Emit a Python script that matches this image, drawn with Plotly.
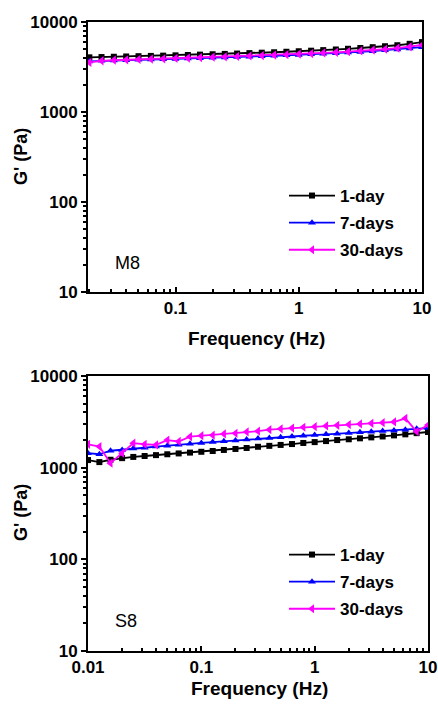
import math
import plotly.graph_objects as go

# ---------------- data ----------------
series_names = ["1-day", "7-days", "30-days"]

# Top panel (M8): frequency sweep 0.02 - 10 Hz, 10 points per decade
freq_m8 = [0.02, 0.0251, 0.0316, 0.0398, 0.0501, 0.0631, 0.0794, 0.1, 0.126, 0.158,
           0.2, 0.251, 0.316, 0.398, 0.501, 0.631, 0.794, 1.0, 1.26, 1.58,
           2.0, 2.51, 3.16, 3.98, 5.01, 6.31, 7.94, 10.0]
m8_1day = [4050, 4080, 4110, 4140, 4170, 4200, 4230, 4260, 4300, 4340,
           4380, 4420, 4460, 4510, 4560, 4610, 4670, 4730, 4800, 4870,
           4950, 5040, 5140, 5250, 5380, 5520, 5720, 5980]
m8_7days = [3650, 3700, 3740, 3770, 3800, 3830, 3860, 3890, 3920, 3960,
            4000, 4040, 4080, 4120, 4160, 4210, 4260, 4310, 4370, 4430,
            4500, 4570, 4650, 4740, 4840, 4950, 5080, 5250]
m8_30days = [3550, 3700, 3760, 3800, 3840, 3870, 3900, 3940, 3980, 4020,
             4060, 4100, 4140, 4190, 4240, 4290, 4340, 4400, 4460, 4530,
             4600, 4680, 4770, 4870, 4980, 5120, 5300, 5550]

# Bottom panel (S8): frequency sweep 0.01 - 10 Hz
freq_s8 = [0.01, 0.0126, 0.0158, 0.02, 0.0251, 0.0316, 0.0398, 0.0501, 0.0631, 0.0794,
           0.1, 0.126, 0.158, 0.2, 0.251, 0.316, 0.398, 0.501, 0.631, 0.794,
           1.0, 1.26, 1.58, 2.0, 2.51, 3.16, 3.98, 5.01, 6.31, 7.94, 10.0]
s8_1day = [1210, 1150, 1220, 1270, 1310, 1340, 1370, 1400, 1430, 1460,
           1490, 1520, 1560, 1600, 1640, 1690, 1730, 1770, 1810, 1860,
           1900, 1950, 2000, 2040, 2090, 2140, 2190, 2250, 2310, 2380, 2450]
s8_7days = [1440, 1400, 1530, 1560, 1620, 1650, 1700, 1730, 1780, 1820,
            1860, 1900, 1940, 1980, 2030, 2080, 2110, 2150, 2190, 2230,
            2270, 2310, 2350, 2390, 2430, 2470, 2510, 2550, 2600, 2650, 2700]
s8_30days = [1800, 1700, 1120, 1440, 1850, 1800, 1770, 2000, 1930, 2180,
             2230, 2260, 2330, 2370, 2450, 2500, 2600, 2650, 2700, 2760,
             2800, 2850, 2900, 2950, 3000, 3050, 3100, 3150, 3450, 2480, 2920]

x_tickvals_top = [0.1, 1, 10]
x_ticktext_top = ["0.1", "1", "10"]
x_tickvals_bot = [0.01, 0.1, 1, 10]
x_ticktext_bot = ["0.01", "0.1", "1", "10"]
y_tickvals = [10, 100, 1000, 10000]
y_ticktext = ["10", "100", "1000", "10000"]

panel_labels = ["M8", "S8"]
x_title = "Frequency (Hz)"
y_title = "G' (Pa)"

# ---------------- styling ----------------
W, H = 438, 704
FONT = "Liberation Sans, Arial, sans-serif"
colors = ["#000000", "#0000FF", "#FF00FF"]
symbols = ["square", "triangle-up", "triangle-left"]
msizes = [6, 7, 8]


def px_x(p):
    return p / W


def px_y(p):
    return 1 - p / H


top_box = dict(l=88, r=422, t=22, b=292)
bot_box = dict(l=88, r=428, t=376, b=651)

fig = go.Figure()

top_data = [m8_1day, m8_7days, m8_30days]
bot_data = [s8_1day, s8_7days, s8_30days]
for i, name in enumerate(series_names):
    fig.add_trace(go.Scatter(
        x=freq_m8, y=top_data[i], name=name, mode="lines+markers",
        line=dict(color=colors[i], width=1.8),
        marker=dict(symbol=symbols[i], size=msizes[i], color=colors[i]),
        xaxis="x", yaxis="y", legend="legend", legendgroup="t%d" % i))
for i, name in enumerate(series_names):
    fig.add_trace(go.Scatter(
        x=freq_s8, y=bot_data[i], name=name, mode="lines+markers",
        line=dict(color=colors[i], width=1.8),
        marker=dict(symbol=symbols[i], size=msizes[i], color=colors[i]),
        xaxis="x2", yaxis="y2", legend="legend2", legendgroup="b%d" % i))

tickfont = dict(family=FONT, size=17, color="black", weight="bold")


def minor_vals(lo_exp, hi_exp):
    return [m * 10 ** e for e in range(lo_exp, hi_exp) for m in range(2, 10)]


common_ax = dict(type="log", showgrid=False, zeroline=False, showline=True,
                 linecolor="black", linewidth=2, mirror=True, tickcolor="black",
                 tickwidth=1.5, tickfont=tickfont, automargin=False)

leg_font = dict(family=FONT, size=17, color="black", weight="bold")

fig.update_layout(
    width=W, height=H,
    margin=dict(l=0, r=0, t=0, b=0),
    paper_bgcolor="white", plot_bgcolor="white",
    showlegend=True,
    xaxis=dict(**common_ax, domain=[px_x(top_box["l"]), px_x(top_box["r"])],
               anchor="y", range=[math.log10(0.0195), 1.0],
               tickmode="array", tickvals=x_tickvals_top, ticktext=x_ticktext_top,
               ticks="inside", ticklen=5,
               minor=dict(tickmode="array", tickvals=minor_vals(-2, 1),
                          ticks="inside", ticklen=3, tickcolor="black", showgrid=False)),
    yaxis=dict(**common_ax, domain=[px_y(top_box["b"]), px_y(top_box["t"])],
               anchor="x", range=[1, 4],
               tickmode="array", tickvals=y_tickvals, ticktext=y_ticktext,
               ticks="outside", ticklen=5,
               minor=dict(tickmode="array", tickvals=minor_vals(1, 4),
                          ticks="outside", ticklen=3, tickcolor="black", showgrid=False)),
    xaxis2=dict(**common_ax, domain=[px_x(bot_box["l"]), px_x(bot_box["r"])],
                anchor="y2", range=[-2, 1],
                tickmode="array", tickvals=x_tickvals_bot, ticktext=x_ticktext_bot,
                ticks="inside", ticklen=5,
                minor=dict(tickmode="array", tickvals=minor_vals(-2, 1),
                           ticks="inside", ticklen=3, tickcolor="black", showgrid=False)),
    yaxis2=dict(**common_ax, domain=[px_y(bot_box["b"]), px_y(bot_box["t"])],
                anchor="x2", range=[1, 4],
                tickmode="array", tickvals=y_tickvals, ticktext=y_ticktext,
                ticks="outside", ticklen=5,
                minor=dict(tickmode="array", tickvals=minor_vals(1, 4),
                           ticks="outside", ticklen=3, tickcolor="black", showgrid=False)),
    legend=dict(x=px_x(284), y=px_y(178), xanchor="left", yanchor="top",
                bgcolor="rgba(0,0,0,0)", borderwidth=0, itemwidth=46,
                tracegroupgap=2, font=leg_font),
    legend2=dict(x=px_x(284), y=px_y(537), xanchor="left", yanchor="top",
                 bgcolor="rgba(0,0,0,0)", borderwidth=0, itemwidth=46,
                 tracegroupgap=2, font=leg_font),
)

ann_font = dict(family=FONT, size=19, color="black", weight="bold")
fig.add_annotation(x=px_x(256), y=px_y(338), xref="paper", yref="paper",
                   text=x_title, showarrow=False, font=ann_font,
                   xanchor="center", yanchor="middle")
fig.add_annotation(x=px_x(259), y=px_y(688), xref="paper", yref="paper",
                   text=x_title, showarrow=False, font=ann_font,
                   xanchor="center", yanchor="middle")
yt_font = dict(family=FONT, size=18, color="black", weight="bold")
fig.add_annotation(x=px_x(21), y=px_y(157), xref="paper", yref="paper",
                   text=y_title, showarrow=False, font=yt_font, textangle=-90,
                   xanchor="center", yanchor="middle")
fig.add_annotation(x=px_x(21), y=px_y(513), xref="paper", yref="paper",
                   text=y_title, showarrow=False, font=yt_font, textangle=-90,
                   xanchor="center", yanchor="middle")
lab_font = dict(family=FONT, size=18, color="black")
fig.add_annotation(x=px_x(127), y=px_y(263), xref="paper", yref="paper",
                   text=panel_labels[0], showarrow=False, font=lab_font,
                   xanchor="center", yanchor="middle")
fig.add_annotation(x=px_x(126), y=px_y(621), xref="paper", yref="paper",
                   text=panel_labels[1], showarrow=False, font=lab_font,
                   xanchor="center", yanchor="middle")

fig.write_html("out.html", config={"displayModeBar": False})

# remove the default 8px body margin so the figure sits at the page origin
with open("out.html", "r", encoding="utf-8") as fh:
    html = fh.read()
html = html.replace("<head>", "<head><style>html,body{margin:0;padding:0;overflow:hidden;}</style>", 1)
with open("out.html", "w", encoding="utf-8") as fh:
    fh.write(html)
